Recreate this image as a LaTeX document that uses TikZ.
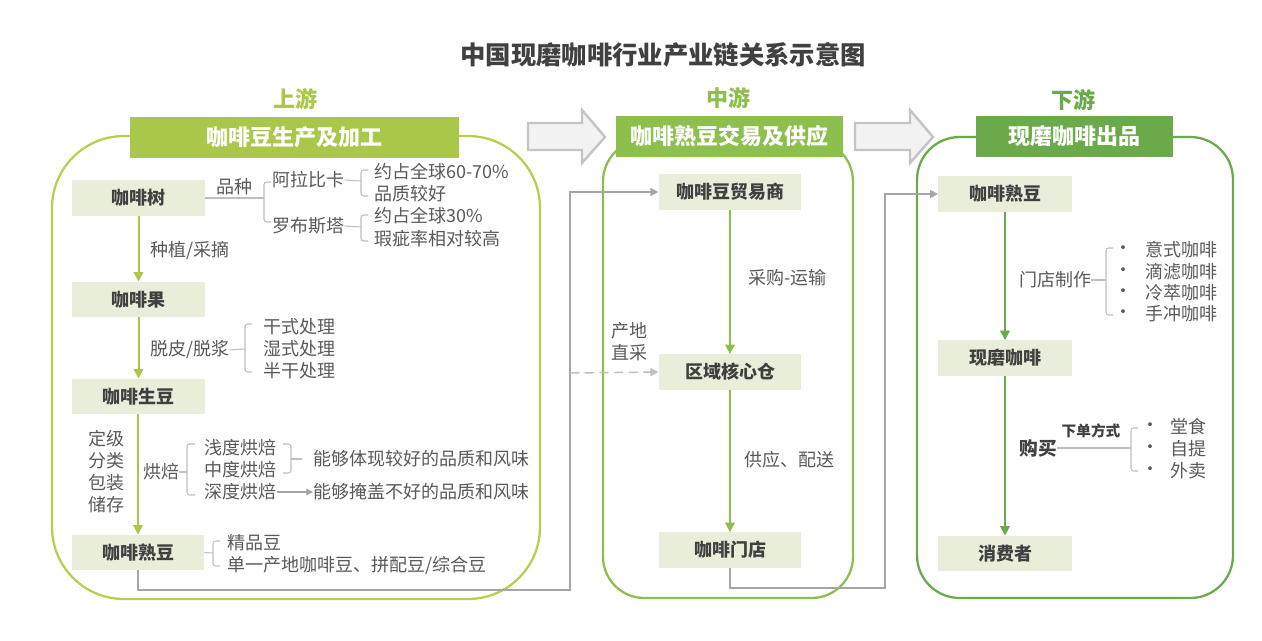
\documentclass[tikz,border=0pt]{standalone}
\usepackage{fontspec}
\setmainfont{Noto Sans CJK SC}
\usetikzlibrary{arrows.meta}
\definecolor{upG}{HTML}{A9C84A}
\definecolor{upL}{HTML}{B5D04F}
\definecolor{midG}{HTML}{8CBF4C}
\definecolor{dnG}{HTML}{6AAA4A}
\definecolor{nodeF}{HTML}{E8EEDA}
\definecolor{txtD}{HTML}{404040}
\definecolor{txtG}{HTML}{595959}
\definecolor{lnG}{HTML}{A6A6A6}
\definecolor{brk}{HTML}{BFBFBF}
\definecolor{arrF}{HTML}{F2F2F2}
\definecolor{arrD}{HTML}{C4C4C4}
\newcommand{\myfs}[2]{\fontsize{#1}{#2}\selectfont}
\begin{document}
\begin{tikzpicture}[x=0.75pt,y=-0.75pt,
  every node/.style={inner sep=0pt},
  stage/.style={line width=1.7pt},
  hdr/.style={minimum height=30.5pt, text=white, font=\myfs{16.5}{18}\bfseries},
  nbox/.style={fill=nodeF, minimum width=100pt, minimum height=26.5pt, text=txtD, font=\myfs{13.5}{15}\bfseries},
  lbl/.style={text=txtG, font=\myfs{13.5}{16.5}},
  lblw/.style={lbl, anchor=west},
  flow/.style={line width=1.5pt, -{Triangle[length=7pt,width=7pt]}},
  link/.style={draw=lnG, line width=1.1pt, -{Triangle[length=6pt,width=6pt]}},
  brace/.style={draw=brk, line width=0.8pt, rounded corners=2pt},
  blockarrow/.style={fill=arrF, draw=arrD, line width=1.8pt},
]
\useasboundingbox (0,0) rectangle (1262,640);

% title
\node[font=\myfs{19}{21}\bfseries, text=txtD] (title) at (663,55) {中国现磨咖啡行业产业链关系示意图};

% stage labels
\node[font=\myfs{16.5}{18}\bfseries, text=upG] (uplbl) at (295,99) {上游};
\node[font=\myfs{16.5}{18}\bfseries, text=midG] (midlbl) at (728,98) {中游};
\node[font=\myfs{16.5}{18}\bfseries, text=dnG] (dnlbl) at (1073,100) {下游};

% block arrows
\draw[blockarrow] (528,123) -- (582,123) -- (582,110) -- (605,137) -- (582,163) -- (582,150) -- (528,150) -- cycle;
\draw[blockarrow] (855,123) -- (910,123) -- (910,110) -- (933,137) -- (910,163) -- (910,150) -- (855,150) -- cycle;

% stage boxes
\draw[stage, draw=upL, rounded corners=54pt] (52,136) rectangle (540,599);
\draw[stage, draw=midG, rounded corners=31pt] (603,140) rectangle (853,598);
\draw[stage, draw=dnG, rounded corners=32pt] (917,137) rectangle (1233,598);

% headers
\node[hdr, fill=upG, minimum width=247pt] (uphdr) at (294.5,137.5) {咖啡豆生产及加工};
\node[hdr, fill=midG, minimum width=170.5pt] (midhdr) at (729.5,136.5) {咖啡熟豆交易及供应};
\node[hdr, fill=dnG, minimum width=148pt] (dnhdr) at (1074.5,136.5) {现磨咖啡出品};

% ---------- upstream ----------
\node[nbox] (tree) at (138.5,198) {咖啡树};
\node[nbox] (fruit) at (138.5,299.5) {咖啡果};
\node[nbox] (gbean) at (138.5,396.5) {咖啡生豆};
\node[nbox, minimum width=99pt] (rbean) at (138,552.5) {咖啡熟豆};

\draw[flow, draw=upG, color=upG] (tree) -- (fruit);
\draw[flow, draw=upG, color=upG] (fruit) -- (gbean);
\draw[flow, draw=upG, color=upG] (gbean.south -| rbean) -- (rbean.north);

\node[lblw] (plant) at (150,250) {种植/采摘};
\node[lblw] (peel) at (150,350) {脱皮/脱浆};
\node[lbl, align=center] (grade) at (106,472) {定级\\分类\\包装\\储存};

% variety branch
\node[lbl] (pz) at (234,187) {品种};
\coordinate (tbr) at (264,198);
\draw[brace] (tree.east) -- (tbr);
\draw[brace] (271,182) -- (264,182) -- (264,222) -- (271,222);
\node[lblw] (arab) at (272,180) {阿拉比卡};
\node[lblw] (robu) at (272,226) {罗布斯塔};
\coordinate (abr) at (361,181);
\coordinate (rbr) at (361,227);
\draw[brace] (arab.east) -- (abr);
\draw[brace] (368,170) -- (361,170) -- (361,196) -- (368,196);
\draw[brace] (robu.east) -- (rbr);
\draw[brace] (368,215) -- (361,215) -- (361,241) -- (368,241);
\node[lblw] (a1) at (374,172) {约占全球60-70\%};
\node[lblw] (a2) at (374,194) {品质较好};
\node[lblw] (r1) at (374,216) {约占全球30\%};
\node[lblw] (r2) at (374,239) {瑕疵率相对较高};

% processing branch
\coordinate (pbr) at (245,349);
\draw[brace] (peel.east) -- (pbr);
\draw[brace] (252,324) -- (245,324) -- (245,372) -- (252,372);
\node[lblw] (p1) at (263,327) {干式处理};
\node[lblw] (p2) at (263,349) {湿式处理};
\node[lblw] (p3) at (263,371) {半干处理};

% roasting branch
\node[lbl] (roast) at (161,472) {烘焙};
\coordinate (hbr) at (187,472);
\draw[brace] (roast.east) -- (hbr);
\draw[brace] (195,444) -- (187,444) -- (187,495) -- (195,495);
\node[lblw] (h1) at (204,448) {浅度烘焙};
\node[lblw] (h2) at (204,470) {中度烘焙};
\node[lblw] (h3) at (204,492) {深度烘焙};
\draw[brace] (283,444) -- (291,444) -- (291,473) -- (283,473);
\coordinate (hr) at (302,459);
\draw[brace] (291,459) -- (hr);
\node[lblw] (e1) at (313,459) {能够体现较好的品质和风味};
\node[lblw] (e2) at (313,492) {能够掩盖不好的品质和风味};
\draw[draw=brk, line width=0.8pt, -{Triangle[length=5pt,width=5pt]}, color=lnG] (h3.east) -- (e2.west);

% roasted bean branch
\coordinate (rbb) at (213,553);
\draw[brace] (rbean.east) -- (rbb);
\draw[brace] (220,541) -- (213,541) -- (213,566) -- (220,566);
\node[lblw] (q1) at (227,543) {精品豆};
\node[lblw] (q2) at (227,565) {单一产地咖啡豆、拼配豆/综合豆};

% ---------- midstream ----------
\node[nbox, minimum width=107pt] (trader) at (730,192) {咖啡豆贸易商};
\node[nbox, minimum width=107pt] (hub) at (730,372) {区域核心仓};
\node[nbox, minimum width=107pt] (store) at (730,550) {咖啡门店};
\draw[flow, draw=midG, color=midG] (trader) -- (hub);
\draw[flow, draw=midG, color=midG] (hub) -- (store);
\node[lblw] (buyship) at (748,278) {采购-运输};
\node[lblw] (supply) at (744,460) {供应、配送};
\node[lbl, align=center] (direct) at (629,342) {产地\\直采};

\coordinate (g1) at (570,590);
\draw[link] (rbean.south) |- (g1) |- (trader.west);
\coordinate (d1) at (570,373);
\draw[link, draw=brk, color=brk, dash pattern=on 7pt off 4pt] (d1) -- (hub.west);

% ---------- downstream ----------
\node[nbox] (dbean) at (1005,194) {咖啡熟豆};
\node[nbox] (fresh) at (1005,358) {现磨咖啡};
\node[nbox] (cons) at (1005,553.5) {消费者};
\draw[flow, draw=dnG, color=dnG] (dbean) -- (fresh);
\draw[flow, draw=dnG, color=dnG] (fresh) -- (cons);

\coordinate (g2) at (885,588);
\draw[link] (store.south) |- (g2) |- (dbean.west);

\node[lbl] (make) at (1055,280) {门店制作};
\coordinate (mbr) at (1106,280);
\draw[brace] (make.east) -- (mbr);
\draw[brace] (1113,248) -- (1106,248) -- (1106,315) -- (1113,315);
\foreach \y/\t [count=\i] in {250/意式咖啡,272/滴滤咖啡,293/冷萃咖啡,314/手冲咖啡}{
  \node[lbl] (mb\i) at (1123,\y) {•};
  \node[lblw] (mi\i) at (1145,\y) {\t};
}

\node[lbl, text=txtD, font=\myfs{14}{16}\bfseries] (buy) at (1038,448) {购买};
\node[text=txtD, font=\myfs{11}{13}\bfseries] (way) at (1091,431) {下单方式};
\coordinate (bbr) at (1131,448);
\draw[brace] (buy.east) -- (bbr);
\draw[brace] (1138,428) -- (1131,428) -- (1131,471) -- (1138,471);
\foreach \y/\t [count=\i] in {427/堂食,449/自提,471/外卖}{
  \node[lbl] (bb\i) at (1150,\y) {•};
  \node[lblw] (bi\i) at (1170,\y) {\t};
}
\end{tikzpicture}
\end{document}
